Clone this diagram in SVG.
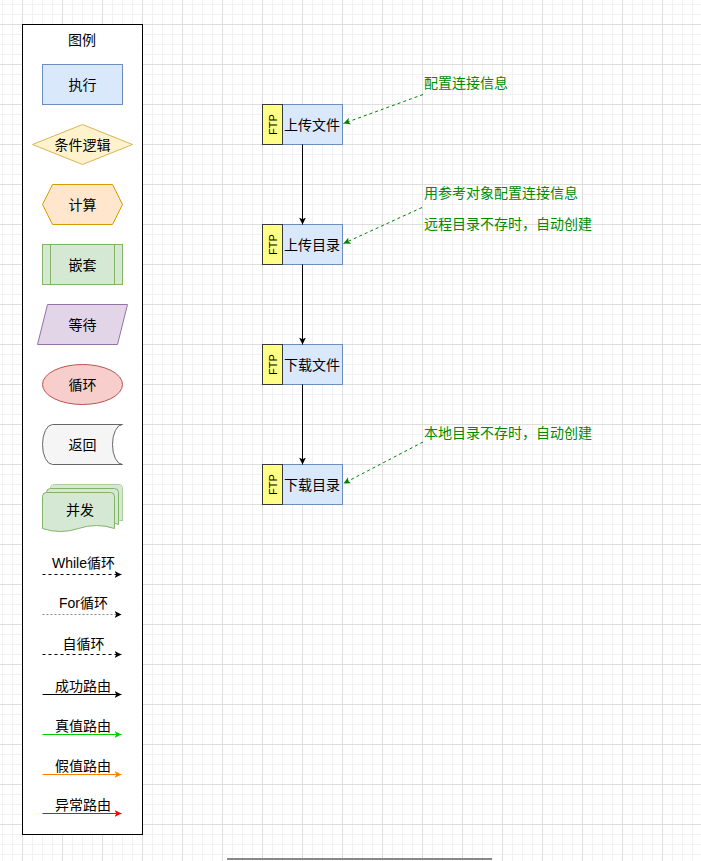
<svg xmlns="http://www.w3.org/2000/svg" width="701" height="861" viewBox="0 0 701 861">
<defs>
<pattern id="grid" x="22" y="24" width="40" height="40" patternUnits="userSpaceOnUse">
<path d="M10.5 0V40M20.5 0V40M30.5 0V40M0 10.5H40M0 20.5H40M0 30.5H40" stroke="#f2f2f2" stroke-width="1" fill="none"/>
<path d="M0.5 0V40M0 0.5H40" stroke="#dedede" stroke-width="1" fill="none"/>
</pattern>
<marker id="aBlack" markerUnits="userSpaceOnUse" markerWidth="8" markerHeight="8" refX="7" refY="3.5" orient="auto"><path d="M0 0L7 3.5L0 7L1.8 3.5Z" fill="#000"/></marker>
<marker id="aGreen" markerUnits="userSpaceOnUse" markerWidth="8" markerHeight="8" refX="7" refY="3.5" orient="auto"><path d="M0 0L7 3.5L0 7L1.8 3.5Z" fill="#00CC00"/></marker>
<marker id="aOrange" markerUnits="userSpaceOnUse" markerWidth="8" markerHeight="8" refX="7" refY="3.5" orient="auto"><path d="M0 0L7 3.5L0 7L1.8 3.5Z" fill="#FF8000"/></marker>
<marker id="aRed" markerUnits="userSpaceOnUse" markerWidth="8" markerHeight="8" refX="7" refY="3.5" orient="auto"><path d="M0 0L7 3.5L0 7L1.8 3.5Z" fill="#FF0000"/></marker>
<marker id="aNote" markerUnits="userSpaceOnUse" markerWidth="8" markerHeight="8" refX="7" refY="3.5" orient="auto"><path d="M0 0L7 3.5L0 7L1.8 3.5Z" fill="#008000"/></marker>
</defs>
<style>
text{font-family:"Liberation Sans","Noto Sans CJK SC",sans-serif;font-size:14px;fill:#000;}
.c{text-anchor:middle;dominant-baseline:central;}
.note{fill:#008a00;dominant-baseline:central;}
.ftp{font-size:11px;text-anchor:middle;dominant-baseline:central;}
.exec{fill:#dae8fc;stroke:#6c8ebf;stroke-width:1;}
.tag{fill:#ffff88;stroke:#36393d;stroke-width:1;}
.flow{stroke:#000;stroke-width:1;fill:none;marker-end:url(#aBlack);}
.noteline{stroke:#008000;stroke-width:1;stroke-dasharray:3 3;fill:none;marker-end:url(#aNote);}
</style>
<rect x="0" y="0" width="701" height="861" fill="#ffffff"/>
<rect x="0" y="0" width="701" height="861" fill="url(#grid)"/>

<g id="legend">
<rect x="22.5" y="24.5" width="120" height="810" fill="#ffffff" stroke="#000" stroke-width="1"/>
<text class="c" x="82" y="40">图例</text>
</g>
<g id="legend-exec">
<rect x="42.5" y="64.5" width="80" height="40" fill="#dae8fc" stroke="#6c8ebf"/>
<text class="c" x="82.5" y="84.5">执行</text>
</g>
<g id="legend-cond">
<path d="M32.5 144.5L82.5 124.5L132.5 144.5L82.5 164.5Z" fill="#fff2cc" stroke="#d6b656"/>
<text class="c" x="82.5" y="144.5">条件逻辑</text>
</g>
<g id="legend-calc">
<path d="M42.5 204.5L52.5 184.5H112.5L122.5 204.5L112.5 224.5H52.5Z" fill="#ffe6cc" stroke="#d79b00"/>
<text class="c" x="82.5" y="204.5">计算</text>
</g>
<g id="legend-nest">
<rect x="42.5" y="244.5" width="80" height="40" fill="#d5e8d4" stroke="#82b366"/>
<path d="M50.5 244.5V284.5M114.5 244.5V284.5" stroke="#82b366" fill="none"/>
<text class="c" x="82.5" y="264.5">嵌套</text>
</g>
<g id="legend-wait">
<path d="M47.5 304.5H127.5L117.5 344.5H37.5Z" fill="#e1d5e7" stroke="#9673a6"/>
<text class="c" x="82.5" y="324.5">等待</text>
</g>
<g id="legend-loop">
<ellipse cx="82.5" cy="384.5" rx="40" ry="20" fill="#f8cecc" stroke="#b85450"/>
<text class="c" x="82.5" y="384.5">循环</text>
</g>
<g id="legend-return">
<path d="M52.5 424.5H122.5A10 20 0 0 0 122.5 464.5H52.5A10 20 0 0 1 52.5 424.5Z" fill="#f5f5f5" stroke="#666666"/>
<text class="c" x="82.5" y="444.5">返回</text>
</g>
<g id="legend-concurrent">
<path d="M50.5 488.5Q50.5 484.5 54.5 484.5H118.5Q122.5 484.5 122.5 488.5V520.5Q116 518.5 110 520" fill="#d5e8d4" stroke="#82b366"/>
<path d="M50.5 492.5V488.5Q50.5 484.5 54.5 484.5H118.5Q122.5 484.5 122.5 488.5V520.5Q116 518.5 114.5 519V492.5Z" fill="#d5e8d4" stroke="none"/>
<path d="M46.5 492.5Q46.5 488.5 50.5 488.5H114.5Q118.5 488.5 118.5 492.5V524.5Q114 523 114.5 523V496.5Z" fill="#d5e8d4" stroke="#82b366"/>
<path d="M42.5 496.5Q42.5 492.5 46.5 492.5H110.5Q114.5 492.5 114.5 496.5V528.5Q96.5 522.5 78.5 528.5Q60.5 534.5 42.5 528.5Z" fill="#d5e8d4" stroke="#82b366"/>
<text class="c" x="80" y="510">并发</text>
</g>

<g id="legend-edges">
<line x1="42.5" y1="574.5" x2="121.5" y2="574.5" stroke="#000" stroke-dasharray="3 3" marker-end="url(#aBlack)"/>
<text class="c" x="83.5" y="563">While循环</text>
<line x1="42.5" y1="614.5" x2="121.5" y2="614.5" stroke="#888" stroke-dasharray="2 2" marker-end="url(#aBlack)"/>
<text class="c" x="83.5" y="603">For循环</text>
<line x1="42.5" y1="654.5" x2="121.5" y2="654.5" stroke="#000" stroke-dasharray="3 3" marker-end="url(#aBlack)"/>
<text class="c" x="83.5" y="644">自循环</text>
<line x1="42.5" y1="694.5" x2="121.5" y2="694.5" stroke="#000" marker-end="url(#aBlack)"/>
<text class="c" x="83" y="686">成功路由</text>
<line x1="42.5" y1="734.5" x2="121.5" y2="734.5" stroke="#00CC00" marker-end="url(#aGreen)"/>
<text class="c" x="83" y="726">真值路由</text>
<line x1="42.5" y1="774.5" x2="121.5" y2="774.5" stroke="#FF8000" marker-end="url(#aOrange)"/>
<text class="c" x="83" y="766">假值路由</text>
<line x1="42.5" y1="813.5" x2="121.5" y2="813.5" stroke="#FF0000" marker-end="url(#aRed)"/>
<text class="c" x="83" y="805">异常路由</text>
</g>

<g id="node-upload-file">
<rect class="exec" x="262.5" y="104.5" width="80" height="40"/>
<rect class="tag" x="262.5" y="104.5" width="20" height="40"/>
<text class="ftp" transform="translate(272.5 124.5) rotate(-90)">FTP</text>
<text class="c" x="312" y="124.5">上传文件</text>
</g>
<g id="node-upload-dir">
<rect class="exec" x="262.5" y="224.5" width="80" height="40"/>
<rect class="tag" x="262.5" y="224.5" width="20" height="40"/>
<text class="ftp" transform="translate(272.5 244.5) rotate(-90)">FTP</text>
<text class="c" x="312" y="244.5">上传目录</text>
</g>
<g id="node-download-file">
<rect class="exec" x="262.5" y="344.5" width="80" height="40"/>
<rect class="tag" x="262.5" y="344.5" width="20" height="40"/>
<text class="ftp" transform="translate(272.5 364.5) rotate(-90)">FTP</text>
<text class="c" x="312" y="364.5">下载文件</text>
</g>
<g id="node-download-dir">
<rect class="exec" x="262.5" y="464.5" width="80" height="40"/>
<rect class="tag" x="262.5" y="464.5" width="20" height="40"/>
<text class="ftp" transform="translate(272.5 484.5) rotate(-90)">FTP</text>
<text class="c" x="312" y="484.5">下载目录</text>
</g>

<g id="note-1">
<text class="note" x="424" y="83">配置连接信息</text>
</g>
<g id="note-2">
<text class="note" x="424" y="193">用参考对象配置连接信息</text>
<text class="note" x="424" y="224">远程目录不存时，自动创建</text>
</g>
<g id="note-3">
<text class="note" x="424" y="433">本地目录不存时，自动创建</text>
</g>

<g id="connectors">
<line class="flow" x1="302.5" y1="144.5" x2="302.5" y2="224.5"/>
<line class="flow" x1="302.5" y1="264.5" x2="302.5" y2="344.5"/>
<line class="flow" x1="302.5" y1="384.5" x2="302.5" y2="464.5"/>
<line class="noteline" x1="423" y1="94.5" x2="343.5" y2="123.5"/>
<line class="noteline" x1="422" y1="207.5" x2="343.5" y2="243.5"/>
<line class="noteline" x1="423" y1="442" x2="343.5" y2="483.5"/>
</g>

<rect x="227" y="858" width="265" height="2" fill="#888888"/>
</svg>
